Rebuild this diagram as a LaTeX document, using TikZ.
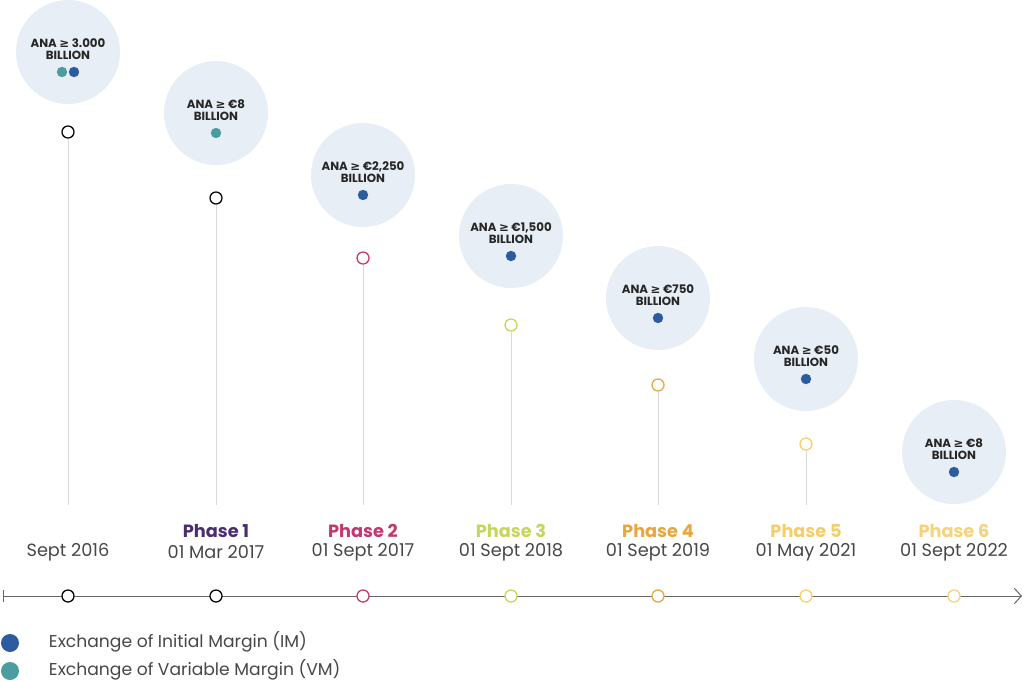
\documentclass[tikz,border=0pt]{standalone}
\usepackage{fontspec}
\setmainfont{Poppins}
\newfontfamily\symfont{DejaVu Sans}
\usetikzlibrary{arrows, arrows.meta}

\definecolor{bubblefill}{HTML}{E8EEF5}
\definecolor{imblue}{HTML}{2C5BA0}
\definecolor{vmteal}{HTML}{4A9DA0}
\definecolor{stemgrey}{HTML}{DADADA}
\definecolor{dategrey}{HTML}{474747}
\definecolor{phaseone}{HTML}{4B2C6F}
\definecolor{phasetwo}{HTML}{C2386F}
\definecolor{phasethree}{HTML}{C6D65A}
\definecolor{phasefour}{HTML}{E8A63C}
\definecolor{phasefive}{HTML}{F5CE6A}
\definecolor{phasesix}{HTML}{F7D27C}

\tikzset{
  bubble/.style={circle, fill=bubblefill, minimum size=2.6cm, inner sep=0pt},
  ana/.style={align=center, font=\fontsize{8.4}{9}\selectfont\bfseries, text=black!85},
  imdot/.style={circle, fill=imblue, minimum size=0.26cm, inner sep=0pt},
  vmdot/.style={circle, fill=vmteal, minimum size=0.26cm, inner sep=0pt},
  ring/.style={circle, draw=#1, fill=white, line width=0.9pt, minimum size=0.3cm, inner sep=0pt},
  stem/.style={draw=stemgrey, line width=0.7pt},
  phase/.style={font=\fontsize{12.6}{14}\selectfont\bfseries, text=#1},
  date/.style={font=\fontsize{12.6}{14}\selectfont, text=dategrey},
  legend/.style={anchor=west, font=\fontsize{12.2}{14}\selectfont, text=dategrey}
}

\begin{document}
\begin{tikzpicture}[x=0.025cm, y=-0.025cm]
\useasboundingbox (0,0) rectangle (1024,682);

% bubbles
\node[bubble] (b1) at (68,52) {};
\node[ana] (t1) at (68,49) {ANA {\symfont ≥} 3.000\\BILLION};
\node[vmdot] (v1) at (62,72) {};
\node[imdot] (i1) at (74,72) {};

\node[bubble] (b2) at (216,113) {};
\node[ana] (t2) at (216,110) {ANA {\symfont ≥} €8\\BILLION};
\node[vmdot] (v2) at (216,133) {};

\foreach \n/\x/\cy/\amt in {3/363/175/{€2,250}, 4/511/236/{€1,500}, 5/658/298/{€750}, 6/806/359/{€50}, 7/954/452/{€8}}{
  \node[bubble] (b\n) at (\x,\cy) {};
  \node[ana] (t\n) at (\x,\cy-3) {ANA {\symfont ≥} \amt\\BILLION};
  \node[imdot] (i\n) at (\x,\cy+20) {};
}

% stems
\coordinate (base) at (0,505);
\foreach \n/\x/\y/\col in {1/68/132/black, 2/216/198/black, 3/363/258/phasetwo, 4/511/325/phasethree, 5/658/385/phasefour, 6/806/444/phasefive}{
  \node[ring=\col] (s\n) at (\x,\y) {};
  \draw[stem] (s\n) -- (s\n |- base);
}

% labels
\node[date] (d1) at (68,552) {Sept 2016};
\node[phase=phaseone] (p2) at (216,531) {Phase 1};
\node[date] (d2) at (216,552) {01 Mar 2017};
\node[phase=phasetwo] (p3) at (363,531) {Phase 2};
\node[date] (d3) at (363,552) {01 Sept 2017};
\node[phase=phasethree] (p4) at (511,531) {Phase 3};
\node[date] (d4) at (511,552) {01 Sept 2018};
\node[phase=phasefour] (p5) at (658,531) {Phase 4};
\node[date] (d5) at (658,552) {01 Sept 2019};
\node[phase=phasefive] (p6) at (806,531) {Phase 5};
\node[date] (d6) at (806,552) {01 May 2021};
\node[phase=phasesix] (p7) at (954,531) {Phase 6};
\node[date] (d7) at (954,552) {01 Sept 2022};

% axis
\coordinate (axstart) at (3,596);
\coordinate (axend) at (1022,596);
\draw[draw=black!60, line width=0.7pt, {Bar[width=9pt]}-{Straight Barb[length=5pt,width=11pt]}] (axstart) -- (axend);
\foreach \n/\x/\col in {1/68/black, 2/216/black, 3/363/phasetwo, 4/511/phasethree, 5/658/phasefour, 6/806/phasefive, 7/954/phasesix}{
  \node[ring=\col] (a\n) at (\x,596) {};
}

% legend
\node[imdot, minimum size=0.45cm] (lim) at (10,643) {};
\node[legend] (lt1) at (44,642) {Exchange of Initial Margin (IM)};
\node[vmdot, minimum size=0.45cm] (lvm) at (10,671) {};
\node[legend] (lt2) at (44,670) {Exchange of Variable Margin (VM)};
\end{tikzpicture}
\end{document}
